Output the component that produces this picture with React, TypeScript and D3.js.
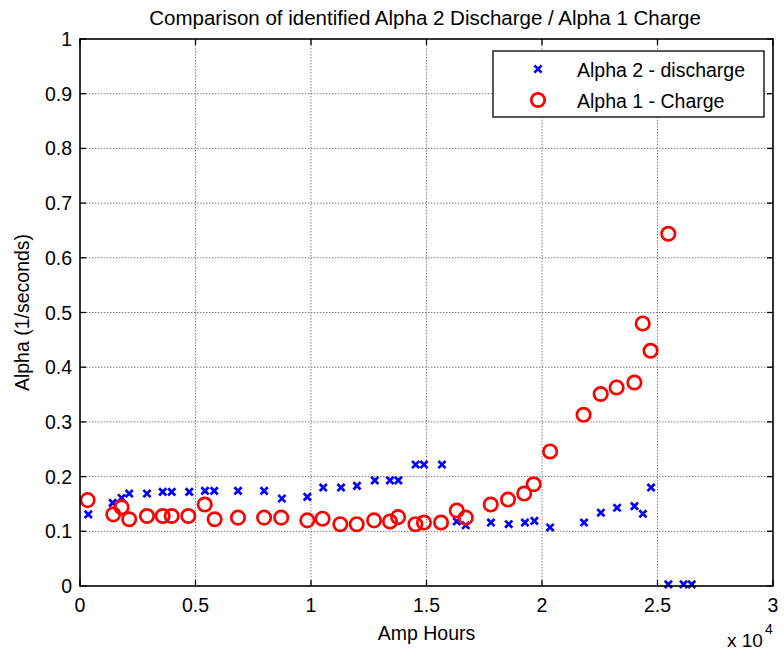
import React from "react";
import * as d3 from "d3";

// Alpha 2 (discharge) identifications: amp hours vs alpha (1/s)
const dischargeAh = [360, 1415, 1800, 2130, 2900, 3580, 3970, 4730, 5410, 5810, 6840, 7970, 8740, 9840, 10530, 11300, 11990, 12760, 13420, 13780, 14530, 14890, 15670, 16310, 16700, 17790, 18560, 19260, 19670, 20350, 21820, 22550, 23250, 24000, 24370, 24720, 25470, 26130, 26480];
const dischargeAlpha = [0.131, 0.152, 0.161, 0.169, 0.169, 0.172, 0.172, 0.172, 0.174, 0.174, 0.174, 0.174, 0.160, 0.163, 0.180, 0.180, 0.183, 0.193, 0.193, 0.193, 0.222, 0.222, 0.222, 0.118, 0.111, 0.116, 0.113, 0.116, 0.119, 0.107, 0.116, 0.134, 0.143, 0.146, 0.132, 0.180, 0.003, 0.003, 0.003];

// Alpha 1 (charge) identifications
const chargeAh = [330, 1440, 1800, 2130, 2900, 3580, 3970, 4690, 5400, 5830, 6840, 7970, 8710, 9840, 10500, 11270, 11980, 12730, 13420, 13770, 14520, 14890, 15630, 16310, 16700, 17780, 18530, 19230, 19640, 20350, 21800, 22540, 23230, 24000, 24360, 24700, 25470];
const chargeAlpha = [0.157, 0.131, 0.144, 0.122, 0.128, 0.128, 0.128, 0.128, 0.149, 0.122, 0.125, 0.125, 0.125, 0.120, 0.123, 0.113, 0.113, 0.120, 0.118, 0.126, 0.113, 0.116, 0.116, 0.138, 0.125, 0.149, 0.158, 0.169, 0.186, 0.246, 0.313, 0.351, 0.363, 0.372, 0.480, 0.430, 0.644];

const xTicks = [0, 5000, 10000, 15000, 20000, 25000, 30000];
const xTickLabels = ["0", "0.5", "1", "1.5", "2", "2.5", "3"];
const yTicks = [0, 0.1, 0.2, 0.3, 0.4, 0.5, 0.6, 0.7, 0.8, 0.9, 1];
const yTickLabels = ["0", "0.1", "0.2", "0.3", "0.4", "0.5", "0.6", "0.7", "0.8", "0.9", "1"];

const seriesNames = ["Alpha 2 - discharge", "Alpha 1 - Charge"];

const W = 784;
const H = 657;
const M = { left: 80, right: 773, top: 39, bottom: 586 };
const FONT = "Arial, 'Liberation Sans', Helvetica, sans-serif";

const xMark = (cx: number, cy: number, s = 4) =>
  `M${cx - s},${cy - s}L${cx + s},${cy + s}M${cx - s},${cy + s}L${cx + s},${cy - s}`;

export default function App() {
  const x = d3.scaleLinear().domain([0, 30000]).range([M.left, M.right]);
  const y = d3.scaleLinear().domain([0, 1]).range([M.bottom, M.top]);
  const tick = 6;

  return (
    <svg
      width={W}
      height={H}
      style={{ position: "absolute", left: 0, top: 0, background: "#fff" }}
      fontFamily={FONT}
    >
      <rect width={W} height={H} fill="#fff" />
      {/* grid */}
      <g stroke="#808080" strokeWidth={1} strokeDasharray="1.5,1.5">
        {xTicks.slice(1, -1).map((t) => (
          <line key={"gx" + t} x1={x(t)} x2={x(t)} y1={M.top} y2={M.bottom} />
        ))}
        {yTicks.slice(1, -1).map((t) => (
          <line key={"gy" + t} x1={M.left} x2={M.right} y1={y(t)} y2={y(t)} />
        ))}
      </g>
      {/* ticks on all sides, pointing inward */}
      <g stroke="#000" strokeWidth={1.3}>
        {xTicks.map((t) => (
          <g key={"tx" + t}>
            <line x1={x(t)} x2={x(t)} y1={M.bottom} y2={M.bottom - tick} />
            <line x1={x(t)} x2={x(t)} y1={M.top} y2={M.top + tick} />
          </g>
        ))}
        {yTicks.map((t) => (
          <g key={"ty" + t}>
            <line x1={M.left} x2={M.left + tick} y1={y(t)} y2={y(t)} />
            <line x1={M.right} x2={M.right - tick} y1={y(t)} y2={y(t)} />
          </g>
        ))}
      </g>
      {/* discharge markers */}
      <g stroke="#0000ff" strokeWidth={2.7} fill="none">
        {dischargeAh.map((d, i) => (
          <path key={"d" + i} d={xMark(x(d), y(dischargeAlpha[i]), 3.6)} />
        ))}
      </g>
      {/* charge markers */}
      <g stroke="#ff0000" strokeWidth={2.7} fill="none">
        {chargeAh.map((d, i) => (
          <circle key={"c" + i} cx={x(d)} cy={y(chargeAlpha[i])} r={6.7} />
        ))}
      </g>
      {/* axes box */}
      <rect
        x={M.left}
        y={M.top}
        width={M.right - M.left}
        height={M.bottom - M.top}
        fill="none"
        stroke="#000"
        strokeWidth={1.6}
      />
      {/* tick labels */}
      <g fontSize={19.5} fill="#000">
        {xTicks.map((t, i) => (
          <text key={"lx" + t} x={x(t)} y={612} textAnchor="middle">
            {xTickLabels[i]}
          </text>
        ))}
        {yTicks.map((t, i) => (
          <text key={"ly" + t} x={72} y={y(t) + 7} textAnchor="end">
            {yTickLabels[i]}
          </text>
        ))}
      </g>
      <text x={727} y={647} fontSize={19}>
        x 10
      </text>
      <text x={765} y={634} fontSize={14}>
        4
      </text>
      {/* axis labels and title */}
      <text x={(M.left + M.right) / 2} y={640} fontSize={19.5} textAnchor="middle">
        Amp Hours
      </text>
      <text
        transform={`translate(29,${(M.top + M.bottom) / 2}) rotate(-90)`}
        fontSize={19.5}
        textAnchor="middle"
      >
        Alpha (1/seconds)
      </text>
      <text x={425} y={25} fontSize={20.5} textAnchor="middle">
        Comparison of identified Alpha 2 Discharge / Alpha 1 Charge
      </text>
      {/* legend */}
      <g>
        <rect x={493} y={51} width={271} height={66} fill="#fff" stroke="#000" strokeWidth={1.3} />
        <path d={xMark(538, 69, 3.6)} stroke="#0000ff" strokeWidth={2.7} fill="none" />
        <circle cx={538} cy={100} r={6.7} stroke="#ff0000" strokeWidth={2.7} fill="none" />
        <text x={577} y={77} fontSize={19.5}>
          {seriesNames[0]}
        </text>
        <text x={577} y={108} fontSize={19.5}>
          {seriesNames[1]}
        </text>
      </g>
    </svg>
  );
}
